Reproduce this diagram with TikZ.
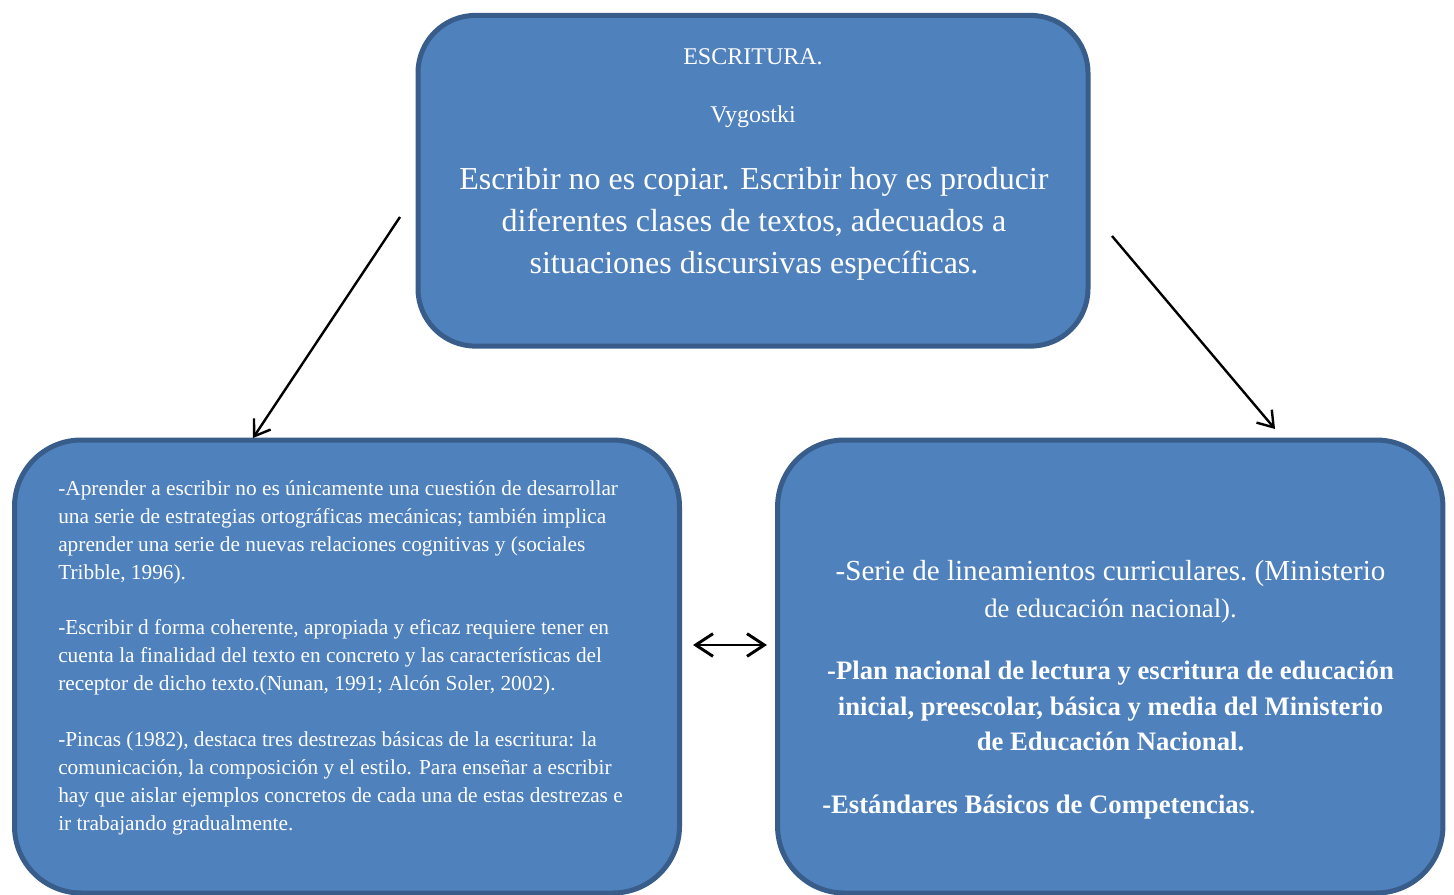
\documentclass[tikz,border=0pt]{standalone}
\usepackage{fontspec}
\setmainfont{Liberation Serif}
\usetikzlibrary{arrows.meta}
\definecolor{boxfill}{HTML}{4F81BD}
\definecolor{boxline}{HTML}{385D8A}
\tikzset{
  box/.style={draw=boxline, fill=boxfill, line width=3.75pt, rounded corners=#1, inner sep=0pt},
  wt/.style={text=white, inner sep=0pt, anchor=base},
  smalltxt/.style={wt, font=\fontsize{18pt}{21pt}\selectfont},
  bigtxt/.style={wt, font=\fontsize{24pt}{31.5pt}\selectfont},
  lefttxt/.style={wt, anchor=base west, font=\fontsize{16pt}{21pt}\selectfont},
  righttxt/.style={wt, font=\fontsize{20pt}{27pt}\selectfont},
  rightbold/.style={wt, font=\fontsize{20pt}{27pt}\selectfont\bfseries},
  conn/.style={line width=1.8pt, -{Straight Barb[length=11pt,width=15pt]}},
  dconn/.style={line width=2.2pt, {Straight Barb[length=13pt,width=17pt]}-{Straight Barb[length=13pt,width=17pt]}}
}
\begin{document}
\begin{tikzpicture}[x=0.75pt, y=-0.75pt]
\useasboundingbox (0,0) rectangle (1454,895);
\clip (0,0) rectangle (1454,895);
% boxes
\node[box=43pt, minimum width=502.5pt, minimum height=248pt] (top) at (753,180.75) {};
\node[box=50pt, minimum width=498.75pt, minimum height=339.75pt] (left) at (347,666.5) {};
\node[box=50pt, minimum width=499pt, minimum height=339.75pt] (right) at (1110.25,666.5) {};
% top text
\node[smalltxt] (t1) at (753,65) {ESCRITURA.};
\node[smalltxt] (t2) at (753,123) {Vygostki};
\node[bigtxt] (t3) at (754,190) {Escribir no es copiar. Escribir hoy es producir};
\node[bigtxt] (t4) at (754,232) {diferentes clases de textos, adecuados a};
\node[bigtxt] (t5) at (754,273) {situaciones discursivas específicas.};
% left text
\foreach \t [count=\i] in {
  {-Aprender a escribir no es únicamente una cuestión de desarrollar},
  {una serie de estrategias ortográficas mecánicas; también implica},
  {aprender una serie de nuevas relaciones cognitivas y (sociales},
  {Tribble, 1996).}}
  \node[lefttxt] (la\i) at (58,{467+28*\i}) {\t};
\foreach \t [count=\i] in {
  {-Escribir d forma coherente,  apropiada y eficaz requiere tener en},
  {cuenta la finalidad del texto en concreto y las características del},
  {receptor de dicho texto.(Nunan, 1991; Alcón Soler, 2002).}}
  \node[lefttxt] (lb\i) at (58,{606+28*\i}) {\t};
\foreach \t [count=\i] in {
  {-Pincas (1982), destaca tres destrezas básicas de la escritura: la},
  {comunicación, la composición y el estilo. Para enseñar a escribir},
  {hay que aislar ejemplos concretos de cada una de estas destrezas e},
  {ir trabajando gradualmente.}}
  \node[lefttxt] (lc\i) at (58,{718+28*\i}) {\t};
% right text
\node[righttxt, font=\fontsize{21.8pt}{27pt}\selectfont\frenchspacing] (r1) at (1110.5,580) {-Serie de lineamientos curriculares. (Ministerio};
\node[righttxt] (r2) at (1110.5,617) {de educación nacional).};
\node[rightbold] (r3) at (1110.5,679) {-Plan nacional de lectura y escritura de educación};
\node[rightbold] (r4) at (1110.5,715) {inicial, preescolar, básica y media del Ministerio};
\node[rightbold] (r5) at (1110.5,750) {de Educación Nacional.};
\node[rightbold, anchor=base west] (r6) at (822,813) {-Estándares Básicos de Competencias\textmd{.}};
% connectors
\coordinate (a1s) at (400,217);
\coordinate (a1e) at (253,438);
\coordinate (a2s) at (1112,236);
\coordinate (a2e) at (1275,429);
\coordinate (a3s) at (693,645);
\coordinate (a3e) at (767,645);
\draw[conn] (a1s) -- (a1e);
\draw[conn] (a2s) -- (a2e);
\draw[dconn] (a3s) -- (a3e);
\end{tikzpicture}
\end{document}
